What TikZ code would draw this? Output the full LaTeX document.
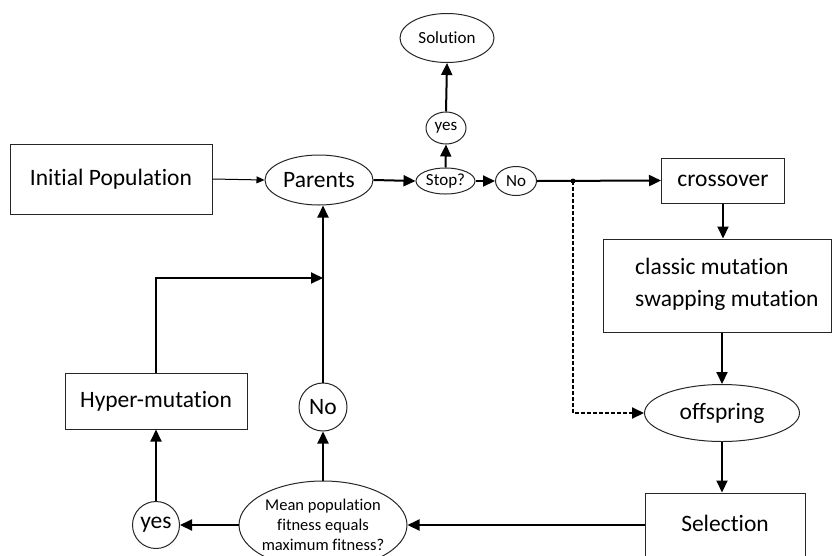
\documentclass[tikz,border=0pt]{standalone}
\usepackage{fontspec}
\setmainfont{Carlito}[Ligatures=NoCommon]
\usetikzlibrary{shapes.geometric,arrows.meta}
\newcommand{\zw}[1]{\makebox[0pt]{#1}}
\tikzset{
  box/.style={draw=black!85, line width=1pt, rectangle, inner sep=0pt},
  ell/.style={draw=black!85, line width=1pt, ellipse, inner sep=0pt},
  circ/.style={draw=black!85, line width=1pt, circle, inner sep=0pt},
  big/.style={font=\fontsize{23.5}{28}\selectfont},
  mid/.style={font=\fontsize{17}{20}\selectfont},
  arr/.style={line width=2pt, -{Triangle[length=12pt,width=11pt]}},
  thinarr/.style={line width=1pt, -{Triangle[length=8pt,width=7pt]}},
  plain/.style={line width=2pt},
}
\begin{document}
\begin{tikzpicture}[x=1pt,y=-1pt]
\useasboundingbox (0,0) rectangle (832,555);
\clip (0,0) rectangle (832,555);
% nodes
\node[box,big,minimum width=202,minimum height=70] (init) at (111,179) {Initial Population};
\node[ell,big,minimum width=108,minimum height=50] (parents) at (319,180) {\zw{Parents}};
\node[ell,mid,minimum width=59,minimum height=26] (stop) at (445.5,181) {\zw{Stop?}};
\node[ell,mid,minimum width=41,minimum height=29] (no1) at (516,181) {\zw{No}};
\node[ell,mid,minimum width=40,minimum height=32] (yes1) at (446,128) {\zw{yes}};
\node[ell,mid,minimum width=94,minimum height=49] (sol) at (447,38) {\zw{Solution}};
\coordinate (dot) at (573,181);
\node[box,big,minimum width=123,minimum height=45] (cross) at (723,180.5) {crossover};
\node[box,minimum width=228,minimum height=93] (mut) at (717,285.5) {};
\node[big,anchor=west,align=left,inner sep=0pt] (muttext) at (635,284) {classic mutation\\[4pt]swapping mutation};
\node[ell,big,minimum width=155,minimum height=57] (off) at (722,413) {\zw{offspring}};
\node[box,minimum width=160,minimum height=80,label={[big,yshift=10pt]center:Selection}] (sel) at (725,533) {};
\node[ell,minimum width=168,minimum height=88,
  label={[align=center,font=\fontsize{16.5}{20}\selectfont]center:Mean population\\fitness equals\\maximum fitness?}] (mean) at (323,525) {};
\node[circ,big,minimum size=47] (yes2) at (156,525) {yes};
\node[box,big,minimum width=182,minimum height=56] (hyper) at (156,401) {Hyper-mutation};
\node[circ,big,minimum size=48] (no2) at (323,407) {No};
\coordinate (j2) at (323,278);
% connectors
\draw[thinarr] (init.east) -- (parents.west);
\draw[arr] (parents.east) -- (stop.west);
\draw[arr] (stop.north) -- (yes1.south);
\draw[arr] (yes1.north) -- (sol.south);
\draw[arr] (stop.east) -- (no1.west);
\draw[arr] (no1.east) -- (cross.west);
\fill (dot) circle (2.5pt);
\draw[line width=2pt, dash pattern=on 4pt off 2pt, -{Triangle[length=12pt,width=11pt]}] (dot) |- (off.west);
\draw[arr] (cross.south) -- (cross.south |- mut.north);
\draw[arr] (off.north |- mut.south) -- (off.north);
\draw[arr] (off.south) -- (off.south |- sel.north);
\draw[arr] (mean.east -| sel.west) -- (mean.east);
\draw[arr] (mean.west) -- (yes2.east);
\draw[arr] (yes2.north) -- (hyper.south);
\draw[arr] (hyper.north) |- (j2);
\draw[arr] (mean.north) -- (no2.south);
\draw[arr] (no2.north) -- (no2.north |- parents.south);
\end{tikzpicture}
\end{document}
